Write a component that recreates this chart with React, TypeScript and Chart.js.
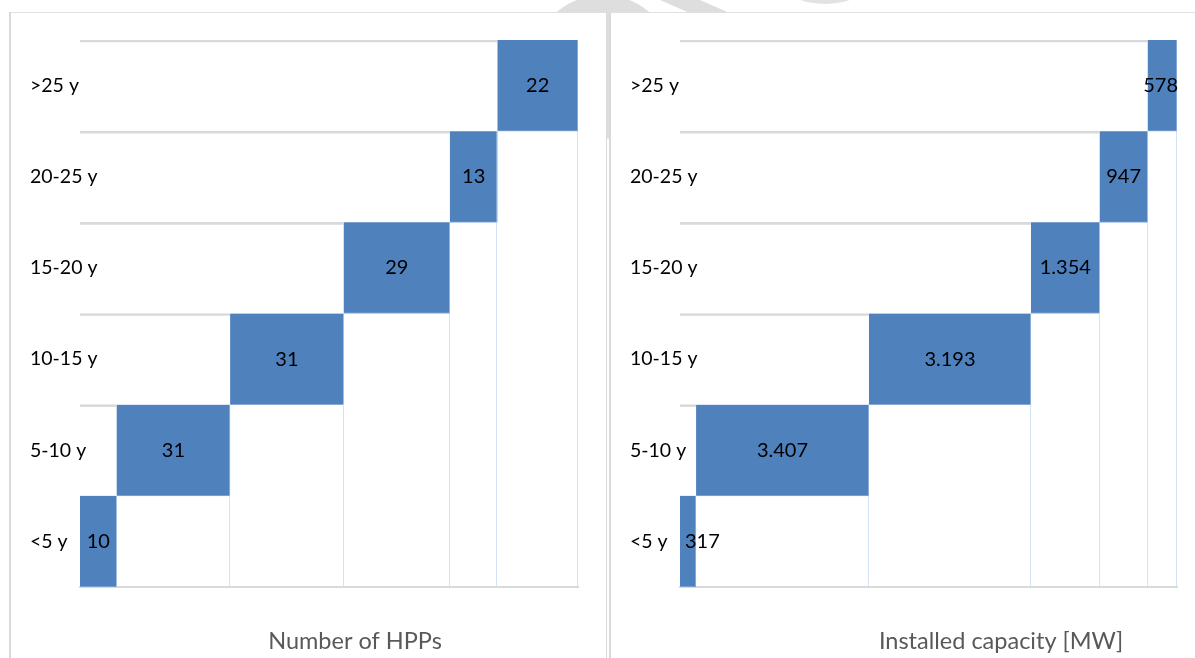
import React, { useEffect, useRef } from 'react';
import { Chart, registerables } from 'chart.js';

Chart.register(...registerables);

// ---- data (listed top row to bottom row) ----
const ageClasses = ['>25 y', '20-25 y', '15-20 y', '10-15 y', '5-10 y', '<5 y'];
const hppCounts = [22, 13, 29, 31, 31, 10];
const capacityMW = [578, 947, 1354, 3193, 3407, 317];
const hppCaption = 'Number of HPPs';
const capacityCaption = 'Installed capacity [MW]';

const BAR_COLOR = '#4f81bd';
const FONT = 'Lato, "Open Sans", sans-serif';

function formatThousands(v: number): string {
  return String(v).replace(/\B(?=(\d{3})+(?!\d))/g, '.');
}

// waterfall: each row starts where the row below ends
function floatingRanges(values: number[]) {
  const n = values.length;
  const ranges: [number, number][] = new Array(n);
  const bases: [number, number][] = new Array(n);
  let acc = 0;
  for (let i = n - 1; i >= 0; i--) {
    ranges[i] = [acc, acc + values[i]];
    bases[i] = [0, acc];
    acc += values[i];
  }
  return { ranges, bases, total: acc };
}

type PanelProps = {
  values: number[];
  caption: string;
  captionX: number;
  left: number;
  width: number;
  rightPad: number;
};

function WaterfallPanel({ values, caption, captionX, left, width, rightPad }: PanelProps) {
  const ref = useRef<HTMLCanvasElement>(null);
  useEffect(() => {
    const { ranges, bases, total } = floatingRanges(values);
    const overlay = {
      id: 'overlay',
      afterDatasetsDraw(chart: any) {
        const { ctx, chartArea, scales } = chart;
        const xs = scales.x;
        const ys = scales.y;
        const half = Math.abs(ys.getPixelForValue(1) - ys.getPixelForValue(0)) / 2;
        ctx.save();
        // drop lines from each bar's right edge down to the axis
        ctx.strokeStyle = 'rgba(175,203,236,0.55)';
        ctx.lineWidth = 1;
        ranges.forEach((r, i) => {
          const px = Math.round(xs.getPixelForValue(r[1])) - 0.5;
          const top = ys.getPixelForValue(i) - half;
          ctx.beginPath();
          ctx.moveTo(px, top);
          ctx.lineTo(px, chartArea.bottom - 1);
          ctx.stroke();
        });
        // value labels
        ctx.font = `20px ${FONT}`;
        ctx.fillStyle = '#000000';
        ctx.textAlign = 'center';
        ctx.textBaseline = 'middle';
        ranges.forEach((r, i) => {
          const text = formatThousands(values[i]);
          const w = ctx.measureText(text).width;
          const x0 = xs.getPixelForValue(r[0]);
          const x1 = xs.getPixelForValue(r[1]);
          let cx = (x0 + x1) / 2;
          cx = Math.max(cx, chartArea.left + w / 2 + 5);
          cx = Math.min(cx, chartArea.right - w / 2 + 1);
          ctx.fillText(text, cx, ys.getPixelForValue(i));
        });
        ctx.restore();
      },
      afterDraw(chart: any) {
        const { ctx } = chart;
        ctx.save();
        ctx.font = `23.5px ${FONT}`;
        ctx.fillStyle = '#595959';
        ctx.textAlign = 'center';
        ctx.textBaseline = 'alphabetic';
        ctx.fillText(caption, captionX, 636);
        ctx.restore();
      },
    };
    const chart = new Chart(ref.current as HTMLCanvasElement, {
      type: 'bar',
      data: {
        labels: ageClasses,
        datasets: [
          {
            data: ranges as any,
            backgroundColor: BAR_COLOR,
            borderColor: '#86aad8',
            borderWidth: { top: 0, left: 0, right: 0, bottom: 1 } as any,
            borderSkipped: false,
            barPercentage: 1,
            categoryPercentage: 1,
            grouped: false,
          },
          {
            // invisible base series: only its gray top edge shows
            data: bases as any,
            backgroundColor: 'rgba(255,255,255,0)',
            borderColor: '#d9d9d9',
            borderWidth: { top: 2, left: 0, right: 0, bottom: 0 } as any,
            borderSkipped: false,
            barPercentage: 1,
            categoryPercentage: 1,
            grouped: false,
          },
        ],
      },
      options: {
        indexAxis: 'y',
        responsive: false,
        animation: false,
        layout: { padding: { left: 19, top: 27, right: rightPad, bottom: 71 } },
        plugins: {
          legend: { display: false },
          tooltip: { enabled: false },
        },
        scales: {
          x: {
            display: true,
            min: 0,
            max: total,
            ticks: { display: false },
            grid: { display: false, drawTicks: false },
            border: { display: true, color: '#d9d9d9', width: 2 },
            afterFit: (s: any) => {
              s.height = 0;
            },
          },
          y: {
            offset: true,
            grid: { display: false, offset: true, drawTicks: false },
            border: { display: false },
            ticks: {
              mirror: true,
              crossAlign: 'near',
              padding: -50,
              color: '#000000',
              font: { family: FONT, size: 19.5 },
            },
            afterFit: (s: any) => {
              s.width = 50;
            },
          },
        },
      } as any,
      plugins: [overlay],
    });
    return () => chart.destroy();
  }, []);
  return (
    <canvas
      ref={ref}
      width={width}
      height={645}
      style={{ position: 'absolute', left, top: 13, width, height: 645, zIndex: 2 }}
    />
  );
}

export default function App() {
  const border = '#d9d9d9';
  return (
    <div
      style={{
        position: 'absolute',
        left: 0,
        top: 0,
        width: 1195,
        height: 658,
        overflow: 'hidden',
        background: '#ffffff',
      }}
    >
      {/* faint watermark remnants above the panels */}
      <div
        style={{
          position: 'absolute',
          left: 603 - 72,
          top: 67 - 72,
          width: 144,
          height: 144,
          borderRadius: '50%',
          background: '#dedede',
        }}
      />
      <div
        style={{
          position: 'absolute',
          left: 640,
          top: 0,
          width: 120,
          height: 14,
          background: '#dedede',
          clipPath: 'polygon(20px 0, 60px 0, 92px 14px, 52px 14px)',
        }}
      />
      <div
        style={{
          position: 'absolute',
          left: 825 - 78,
          top: -74 - 78,
          width: 156,
          height: 156,
          borderRadius: '50%',
          background: '#e2e2e2',
        }}
      />
      <div
        style={{
          position: 'absolute',
          left: 9,
          top: 12,
          width: 598,
          height: 700,
          boxSizing: 'border-box',
          borderLeft: `2px solid ${border}`,
          borderTop: '1px solid #e0e0e0',
          borderRight: `1px solid ${border}`,
          background: '#ffffff',
          zIndex: 1,
        }}
      />
      <div
        style={{
          position: 'absolute',
          left: 609,
          top: 12,
          width: 600,
          height: 700,
          boxSizing: 'border-box',
          borderLeft: `2px solid ${border}`,
          borderTop: '1px solid #e0e0e0',
          background: '#ffffff',
          zIndex: 1,
        }}
      />
      <WaterfallPanel values={hppCounts} caption={hppCaption} captionX={344} left={11} width={595} rightPad={28} />
      <WaterfallPanel
        values={capacityMW}
        caption={capacityCaption}
        captionX={390}
        left={611}
        width={584}
        rightPad={18}
      />
    </div>
  );
}
